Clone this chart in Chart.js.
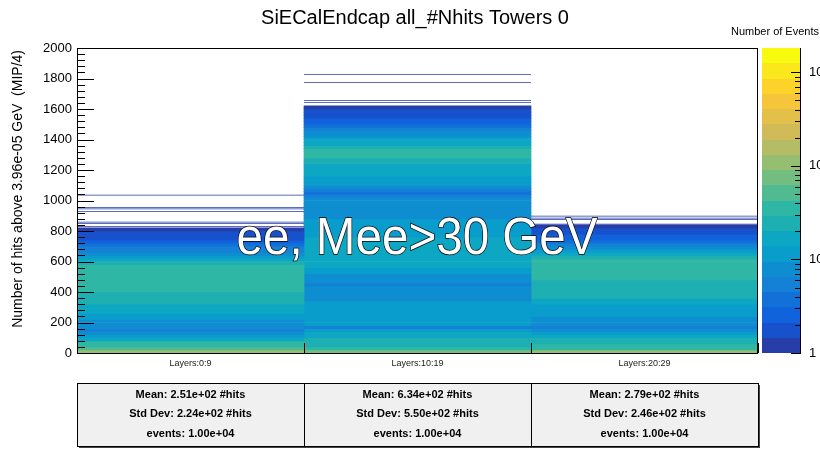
<!DOCTYPE html>
<html><head><meta charset="utf-8">
<script src="https://cdn.jsdelivr.net/npm/chart.js@4.4.1/dist/chart.umd.min.js"></script>
<style>html,body{margin:0;padding:0;background:#fff;}#wrap{width:820px;height:450px;}</style>
</head><body><div id="wrap"><canvas id="c" width="820" height="450"></canvas></div>
<script>
// ---------- data ----------
const layerLabels = ['Layers:0:9', 'Layers:10:19', 'Layers:20:29'];
const binWidth = 20; // #hits per y-bin
// counts per y-bin (bin j covers [j*binWidth, (j+1)*binWidth))
const countsLayers0_9 = [100,50,42,32,20,10,7,6,7,8, 9,11,13,15,17,19,21,24,26,28,
  31,34,38,40,42,42,40,36,30,24, 18,13,9,6,5,4,3,2,2,1.5, 1];
const countsLayers10_19 = [90,30,28,25,22,18,14,11,6,10, 11,12,11,12,13,11,10,9,9,8,
  8,8,5,8,9,9,10,12,14,16, 17,18,18,17,16,15,14,14,13,13,
  12,12,11,10,9,8,7,7,7,7, 7,6,4,5,8,10,12,13,14,15,
  17,20,24,28,32,34,32,26,20,16, 12,9,7,6,4,3,2.5,2,2,1.5,1.3];
const countsLayers20_29 = [100,40,35,28,22,16,11,8,6,7, 8,9,10,11,12,13,15,18,21,24,
  26,27,28,28,30,34,38,40,40,38, 30,25,15,11,8,6,4,3,2.5,2, 1.5,1];
// isolated single-event bins (lower edge, #hits)
const singlesLayers0_9 = [826, 846, 856, 926, 942, 951, 1032];
const singlesLayers10_19 = [1640, 1652, 1770, 1823];
const singlesLayers20_29 = [843, 874, 882, 895];
const singleBinWidth = 5;
const statMean = ['2.51e+02', '6.34e+02', '2.79e+02'];
const statStdDev = ['2.24e+02', '5.50e+02', '2.46e+02'];
const statEvents = ['1.00e+04', '1.00e+04', '1.00e+04'];
const yMin = 0, yMax = 2000, yStep = 200, yMinorStep = 40;
const zMin = 1, zMax = 1820, nLevels = 20;
const zTickLabels = ['1', '10', '10\u00B2', '10\u00B3'];
const titleText = 'SiECalEndcap all_#Nhits Towers 0';
const yTitleText = 'Number of hits above 3.96e-05 GeV  (MIP/4)';
const zTitleText = 'Number of Events';
const overlayText = 'ee, Mee>30 GeV';

// ---------- ROOT kBird palette ----------
const bStops = [0.0, 0.125, 0.25, 0.375, 0.5, 0.625, 0.75, 0.875, 1.0];
const bRed = [0.2082, 0.0592, 0.0780, 0.0232, 0.1802, 0.5301, 0.8186, 0.9956, 0.9764];
const bGreen = [0.1664, 0.3599, 0.5041, 0.6419, 0.7178, 0.7492, 0.7328, 0.7862, 0.9832];
const bBlue = [0.5293, 0.8684, 0.8385, 0.7914, 0.6425, 0.4662, 0.3499, 0.1968, 0.0539];
function bird(t) {
  t = Math.max(0, Math.min(1, t));
  let k = 0;
  while (k < bStops.length - 2 && t > bStops[k + 1]) k++;
  const f = (t - bStops[k]) / (bStops[k + 1] - bStops[k]);
  const c = arr => Math.round(255 * (arr[k] + f * (arr[k + 1] - arr[k])));
  return `rgb(${c(bRed)},${c(bGreen)},${c(bBlue)})`;
}
const lzMin = Math.log10(zMin), lzMax = Math.log10(zMax);
function levelOf(c) {
  const l = Math.floor(nLevels * (Math.log10(c) - lzMin) / (lzMax - lzMin));
  return Math.max(0, Math.min(nLevels - 1, l));
}
function levelColor(i) { return bird(Math.floor((i + 0.99) * 255 / nLevels) / 254); }
function colorOfCount(c) { return levelColor(levelOf(c)); }

function bodyData(label, counts) {
  return counts.map((c, j) => ({ x: label, y: [j * binWidth, (j + 1) * binWidth], c }));
}
function singleData(label, singles) {
  return singles.map(v => ({ x: label, y: [v, v + singleBinWidth], c: 1 }));
}
const bodyColumns = [
  bodyData(layerLabels[0], countsLayers0_9),
  bodyData(layerLabels[1], countsLayers10_19),
  bodyData(layerLabels[2], countsLayers20_29)
];
const singleColumns = [
  singleData(layerLabels[0], singlesLayers0_9),
  singleData(layerLabels[1], singlesLayers10_19),
  singleData(layerLabels[2], singlesLayers20_29)
];

const FONT = "'Liberation Sans', Arial, Helvetica, sans-serif";

const decor = {
  id: 'rootDecor',
  afterDraw(chart) {
    const { ctx, chartArea: a, scales: { x, y, z } } = chart;
    ctx.save();
    ctx.strokeStyle = '#000'; ctx.fillStyle = '#000'; ctx.lineWidth = 1;
    const L = Math.round(a.left), R = Math.round(a.right), T = Math.round(a.top), B = Math.round(a.bottom);
    ctx.strokeRect(L + 0.5, T + 0.5, R - L - 1, B - T);
    ctx.beginPath();
    for (let v = yMin; v <= yMax; v += yMinorStep) {
      const py = Math.round(y.getPixelForValue(v)) + 0.5;
      const len = (v % yStep === 0) ? 17 : 8;
      ctx.moveTo(L, py); ctx.lineTo(L + len, py);
    }
    const step = x.getPixelForValue(1) - x.getPixelForValue(0);
    for (let k = 0; k <= layerLabels.length; k++) {
      const bx = Math.round(x.getPixelForValue(0) - step / 2 + k * step) + 0.5;
      ctx.moveTo(bx, B); ctx.lineTo(bx, B - 10);
    }
    ctx.stroke();

    // colour bar
    const cbL = R + 4, cbR = R + 42;
    for (let i = 0; i < nLevels; i++) {
      const lo = Math.pow(10, lzMin + i * (lzMax - lzMin) / nLevels);
      const hi = Math.pow(10, lzMin + (i + 1) * (lzMax - lzMin) / nLevels);
      const y0 = Math.round(z.getPixelForValue(lo)), y1 = Math.round(z.getPixelForValue(hi));
      ctx.fillStyle = levelColor(i);
      ctx.fillRect(cbL, y1, cbR - cbL, y0 - y1);
    }
    ctx.beginPath();
    ctx.moveTo(cbR + 0.5, T); ctx.lineTo(cbR + 0.5, B + 1);
    for (let d = 0; d <= 3; d++) {
      for (let m = 1; m <= 9; m++) {
        const v = m * Math.pow(10, d);
        if (v > zMax) break;
        const py = Math.round(z.getPixelForValue(v)) + 0.5;
        const len = m === 1 ? 9 : 5;
        ctx.moveTo(cbR, py); ctx.lineTo(cbR - len, py);
      }
    }
    ctx.strokeStyle = '#000'; ctx.stroke();
    ctx.fillStyle = '#000';
    ctx.font = `13px ${FONT}`; ctx.textAlign = 'left'; ctx.textBaseline = 'middle';
    zTickLabels.forEach((t, d) => ctx.fillText(t, cbR + 9, z.getPixelForValue(Math.pow(10, d))));
    ctx.font = `11px ${FONT}`; ctx.textAlign = 'right';
    ctx.fillText(zTitleText, 819, 32);

    ctx.font = `20px ${FONT}`; ctx.textAlign = 'center';
    ctx.fillText(titleText, 415, 18);

    ctx.save();
    ctx.translate(18, T + 2); ctx.rotate(-Math.PI / 2);
    ctx.font = `14px ${FONT}`; ctx.textAlign = 'right'; ctx.textBaseline = 'middle';
    ctx.fillText(yTitleText, 0, 0);
    ctx.restore();

    ctx.save();
    ctx.font = `52px ${FONT}`;
    const w = ctx.measureText(overlayText).width;
    ctx.translate(417, 254); ctx.scale(361 / w, 1);
    ctx.textAlign = 'center'; ctx.textBaseline = 'alphabetic';
    ctx.lineWidth = 1.4; ctx.strokeStyle = '#000'; ctx.fillStyle = '#fff';
    ctx.strokeText(overlayText, 0, 0);
    ctx.fillText(overlayText, 0, 0);
    ctx.restore();

    const bt = 383, bb = 446;
    for (let k = 0; k < layerLabels.length; k++) {
      const bl = Math.round(x.getPixelForValue(0) - step / 2 + k * step);
      const br = Math.round(x.getPixelForValue(0) - step / 2 + (k + 1) * step);
      ctx.fillStyle = '#444';
      ctx.fillRect(bl + 2, bt + 2, br - bl, bb - bt);
      ctx.fillStyle = '#f0f0f0';
      ctx.fillRect(bl, bt, br - bl, bb - bt);
      ctx.strokeStyle = '#000'; ctx.lineWidth = 1;
      ctx.strokeRect(bl + 0.5, bt + 0.5, br - bl, bb - bt);
      ctx.fillStyle = '#000'; ctx.font = `bold 11px ${FONT}`;
      ctx.textAlign = 'center'; ctx.textBaseline = 'middle';
      const cx = (bl + br) / 2;
      ctx.fillText(`Mean: ${statMean[k]} #hits`, cx, 395);
      ctx.fillText(`Std Dev: ${statStdDev[k]} #hits`, cx, 414);
      ctx.fillText(`events: ${statEvents[k]}`, cx, 434);
    }
    ctx.restore();
  }
};

const barCommon = { grouped: false, barPercentage: 1, categoryPercentage: 1, borderWidth: 0 };
new Chart(document.getElementById('c'), {
  type: 'bar',
  data: {
    labels: layerLabels,
    datasets: [
      ...bodyColumns.map(pts => Object.assign({ data: pts,
        backgroundColor: ctx => (ctx.raw ? colorOfCount(ctx.raw.c) : 'rgba(0,0,0,0)') }, barCommon)),
      ...singleColumns.map(pts => Object.assign({ data: pts, inflateAmount: 0,
        backgroundColor: ctx => (ctx.raw ? colorOfCount(ctx.raw.c) : 'rgba(0,0,0,0)') }, barCommon))
    ]
  },
  options: {
    responsive: false,
    animation: false,
    devicePixelRatio: 1,
    layout: { padding: { top: 48, left: 0, right: 0, bottom: 0 } },
    plugins: { legend: { display: false }, title: { display: false }, tooltip: { enabled: false } },
    scales: {
      x: {
        type: 'category', offset: true,
        grid: { display: false, drawTicks: false }, border: { display: false },
        ticks: { font: { size: 9, family: FONT }, color: '#222', padding: 5, maxRotation: 0 },
        afterFit(s) { s.height = 97; }
      },
      y: {
        min: yMin, max: yMax,
        grid: { display: false, drawTicks: false }, border: { display: false },
        ticks: { stepSize: yStep, font: { size: 13, family: FONT }, color: '#000', padding: 5,
          callback: v => String(v) },
        afterFit(s) { s.width = 77; }
      },
      z: {
        type: 'logarithmic', position: 'right', min: zMin, max: zMax,
        grid: { display: false, drawTicks: false }, border: { display: false },
        ticks: { display: false },
        afterFit(s) { s.width = 62; }
      }
    }
  },
  plugins: [decor]
});
</script></body></html>
